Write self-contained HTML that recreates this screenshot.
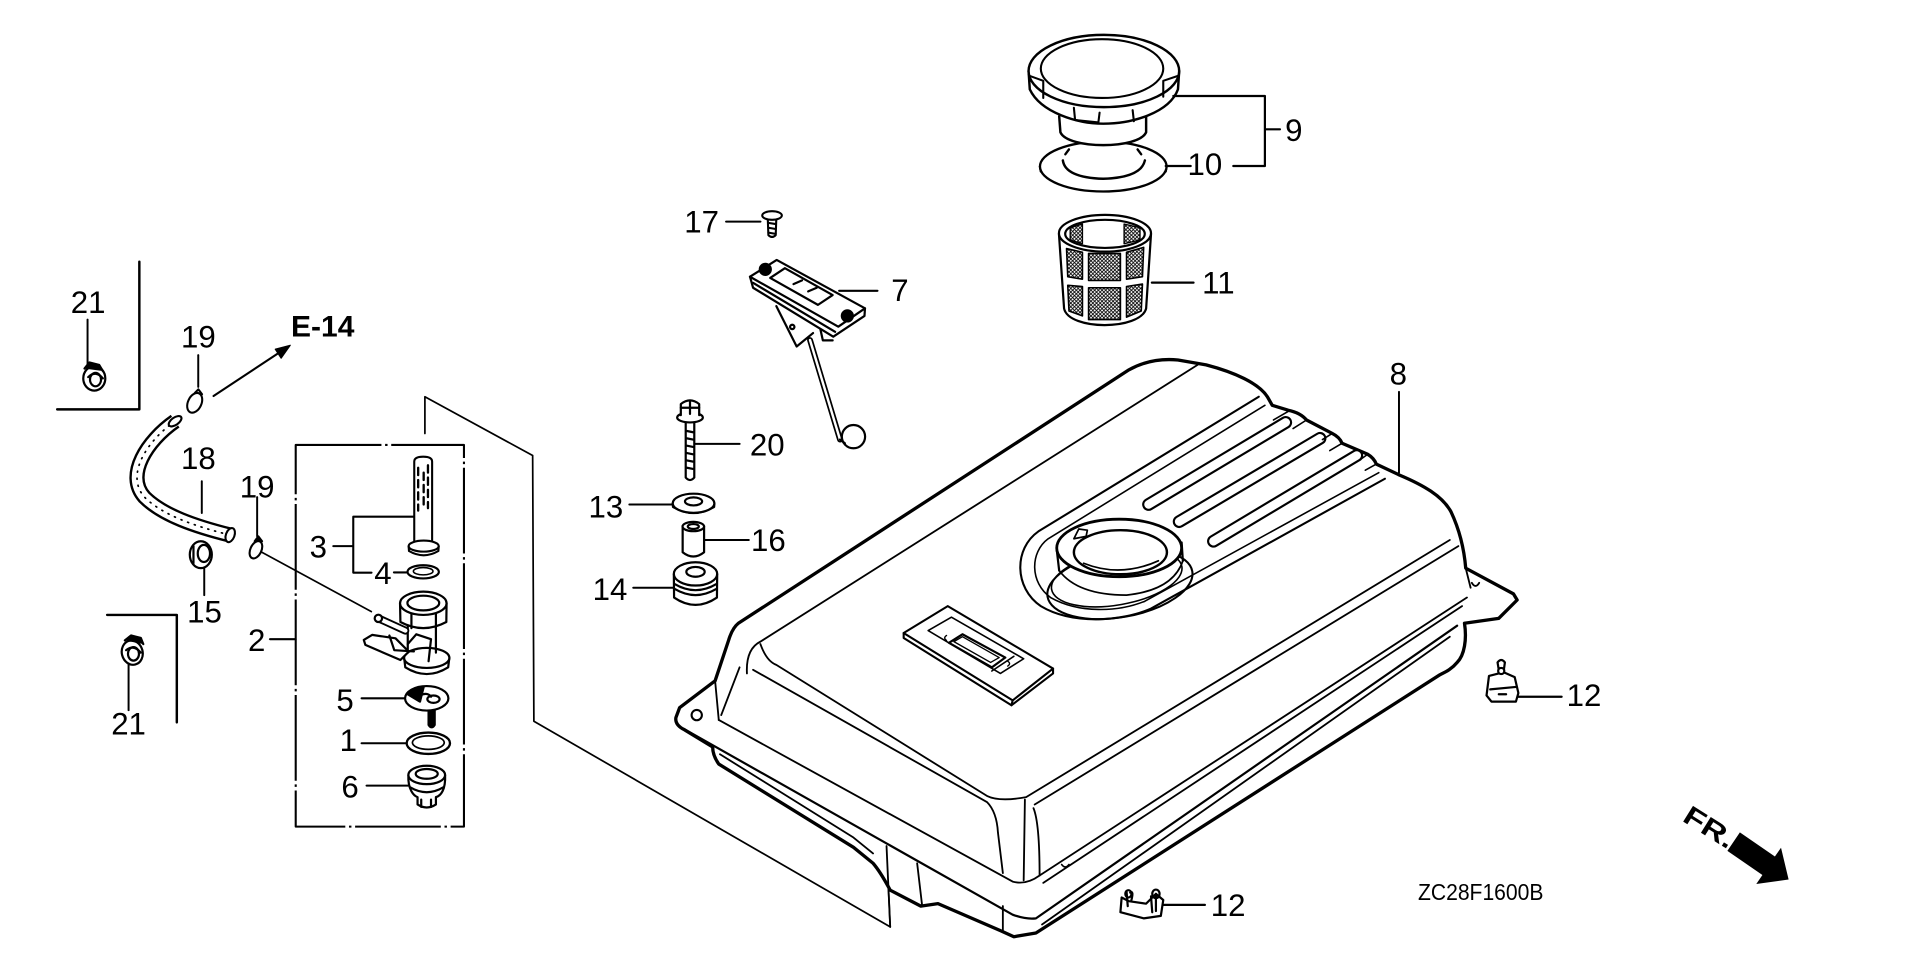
<!DOCTYPE html>
<html>
<head>
<meta charset="utf-8">
<style>
html,body{margin:0;padding:0;background:#fff;}
svg{display:block;}
text{font-family:"Liberation Sans",Arial,sans-serif;fill:#000;stroke:none;}
</style>
</head>
<body>
<svg width="1920" height="959" viewBox="0 0 1568 783.2" preserveAspectRatio="none" xmlns="http://www.w3.org/2000/svg">
<defs>
<pattern id="mesh" width="3" height="3" patternUnits="userSpaceOnUse">
<path d="M0,3 L3,0 M0,0 L3,3" stroke="#000" stroke-width="0.7"/>
</pattern>
</defs>
<rect width="1568" height="783.2" fill="#fff"/>
<g fill="none" stroke="#000" stroke-linecap="round" stroke-linejoin="round">

<!-- ===== Left brackets ===== -->
<path d="M113.8,213.7 L113.8,334.3 L46.7,334.3" stroke-width="2"/>
<path d="M87.5,502.2 L144.4,502.2 L144.4,590" stroke-width="2"/>

<!-- leaders left -->
<path d="M71.5,261 L71.5,298" stroke-width="1.6"/>
<path d="M161.9,290 L161.9,316" stroke-width="1.6"/>
<path d="M164.8,393 L164.8,419" stroke-width="1.6"/>
<path d="M210,406 L210,438" stroke-width="1.6"/>
<path d="M166.8,464 L166.8,486" stroke-width="1.6"/>
<path d="M105,542 L105,580" stroke-width="1.6"/>
<path d="M212.9,450.5 L303.3,499.5" stroke-width="1.3"/>

<!-- E-14 arrow -->
<path d="M174.4,323.4 L228,288" stroke-width="1.7"/>
<polygon points="237,282 229.6,292.5 224.8,285.2" fill="#000" stroke-width="1"/>

<!-- clip 21 top -->
<g stroke-width="1.8">
<ellipse cx="77" cy="309" rx="9" ry="10" fill="#fff"/>
<ellipse cx="78" cy="310" rx="4.5" ry="5.5"/>
<path d="M69,301 L73,296 L81,298 L84,303" fill="#000"/>
<path d="M72,308 Q78,302 84,309"/>
</g>
<!-- clip 21 bottom -->
<g stroke-width="1.8">
<ellipse cx="108" cy="533" rx="8.5" ry="10" fill="#fff" transform="rotate(-15 108 533)"/>
<ellipse cx="109" cy="534" rx="4.5" ry="5.5"/>
<path d="M102,523 L107,519 L115,521 L117,526" fill="#000"/>
<path d="M103,531 Q109,526 115,533"/>
</g>
<!-- clip 19 top -->
<g stroke-width="1.7">
<ellipse cx="159" cy="329" rx="5.5" ry="8.5" fill="#fff" transform="rotate(25 159 329)"/>
<path d="M159,321 L162,318 L165,322"/>
</g>
<!-- clip 19 lower -->
<g stroke-width="1.7">
<ellipse cx="209" cy="449" rx="4.5" ry="7.5" fill="#fff" transform="rotate(25 209 449)"/>
<path d="M208,442 L211,438 L214,442" fill="#000"/>
</g>
<!-- hose 18 -->
<path d="M143,344 C120,360 102,388 118,406 C133,421 160,430 188,437" stroke-width="12.5" stroke-linecap="butt"/>
<path d="M143,344 C120,360 102,388 118,406 C133,421 160,430 188,437" stroke="#fff" stroke-width="8.6" stroke-linecap="butt"/>
<path d="M143,344 C120,360 102,388 118,406 C133,421 160,430 188,437" stroke-width="1.4" stroke-dasharray="0.8 5"/>
<ellipse cx="188" cy="437" rx="3.5" ry="6" stroke-width="1.7" transform="rotate(20 188 437)" fill="#fff"/>
<ellipse cx="143" cy="344" rx="6" ry="3" stroke-width="1.7" transform="rotate(-35 143 344)" fill="#fff"/>
<!-- grommet 15 -->
<g stroke-width="1.8">
<ellipse cx="164" cy="453" rx="9" ry="11" fill="#fff"/>
<ellipse cx="166.5" cy="452" rx="5" ry="7"/>
<path d="M158,446 L158,460"/>
</g>

<!-- ===== Petcock box ===== -->
<rect x="241.5" y="363.4" width="137.4" height="311.7" stroke-width="1.7" stroke-dasharray="70 3 2 3" stroke-linecap="butt"/>
<path d="M347,354 L347,324 L435,372 L436,589 L727,757 L724,691" stroke-width="1.4"/>

<!-- leaders petcock -->
<path d="M220.5,522 L241.4,522" stroke-width="1.7"/>
<path d="M272.2,446 L288.5,446 M288.5,422 L288.5,467.7 L303.4,467.7 M288.5,422 L338.3,422" stroke-width="1.7"/>
<path d="M321.7,467.5 L332.6,467.5" stroke-width="1.7"/>
<path d="M295.3,570.3 L330.8,570.3" stroke-width="1.7"/>
<path d="M295.3,607 L332,607" stroke-width="1.7"/>
<path d="M299.4,641.6 L333.4,641.6" stroke-width="1.7"/>

<!-- part 3 strainer -->
<g stroke-width="1.7">
<path d="M338.3,443.7 L338.3,377 Q338.3,373 345.6,373 Q352.9,373 352.9,377 L352.9,443.7" fill="#fff"/>
<path d="M341.5,382 L341.5,388 M341.5,392 L341.5,398 M341.5,402 L341.5,408 M341.5,412 L341.5,417 M346,386 L346,392 M346,396 L346,402 M346,406 L346,412 M349.5,380 L349.5,386 M349.5,390 L349.5,396 M349.5,400 L349.5,406 M349.5,410 L349.5,415" stroke-width="1.9"/>
<ellipse cx="346" cy="446" rx="12.3" ry="4.5" fill="#fff"/>
<path d="M333.7,446 L334,450 Q346,457 358,450 L358.3,446"/>
</g>
<!-- washer 4 -->
<ellipse cx="345.6" cy="467" rx="12.8" ry="5.4" stroke-width="1.8" fill="#fff"/>
<ellipse cx="345.6" cy="466.5" rx="8" ry="3" stroke-width="1.3"/>
<!-- petcock body -->
<g stroke-width="1.8">
<path d="M330,537 L331,545 Q348.5,556 366,545 L367,537" fill="#fff"/>
<ellipse cx="348.5" cy="537.3" rx="18.5" ry="8.2" fill="#fff"/>
<path d="M333,508 L333,533 M356,508 L356,533" />
<path d="M326.7,492.7 L327,508 Q345.7,518 364.5,508 L364.7,492.7" fill="#fff"/>
<ellipse cx="345.7" cy="492.7" rx="19" ry="9.5" fill="#fff"/>
<ellipse cx="345.7" cy="492.5" rx="13" ry="6"/>
<path d="M336,501 L336,513 M356,501 L356,513"/>
<path d="M309,505 L331,515" stroke-width="6.5"/>
<path d="M309,505 L331,515" stroke="#fff" stroke-width="3.5"/>
<circle cx="309" cy="505" r="3" fill="#fff"/>
<path d="M297.1,522.6 L303.9,518.5 L323,521.3 L333.8,532.2 L327,539 L298.4,526.7 Z" fill="#fff"/>
<path d="M318,519 L322,531 L338,532" />
<path d="M333,526 L340,518 L352,522 L350,540"/>
</g>
<!-- part 5 -->
<g stroke-width="1.8">
<path d="M350,578 L350,592 Q352.5,596 355,592 L355,578" fill="#000"/>
<ellipse cx="348.5" cy="570.3" rx="17.7" ry="10" fill="#fff"/>
<path d="M333,567 Q338,561 346,561 L343,573 Z" fill="#000"/>
<ellipse cx="354" cy="571" rx="5" ry="3"/>
<path d="M343,568 Q349,565 352,569"/>
</g>
<!-- o-ring 1 -->
<ellipse cx="349.8" cy="607" rx="17.7" ry="8.7" stroke-width="1.9" fill="#fff"/>
<ellipse cx="349.8" cy="606.5" rx="13" ry="5.5" stroke-width="1.4"/>
<!-- part 6 -->
<g stroke-width="1.8">
<path d="M333.5,633 C333,645 338,650 341,651 L341,657 Q348.5,662 356,657 L356,651 C360,650 364,645 363.5,633" fill="#fff"/>
<ellipse cx="348.5" cy="632.9" rx="15" ry="7.5" fill="#fff"/>
<ellipse cx="348.5" cy="632" rx="9" ry="4"/>
<path d="M335,643 Q348.5,651 362,643"/>
<path d="M344,653 L344,659 M352,653 L352,659"/>
</g>

<!-- ===== center parts ===== -->
<!-- 17 screw -->
<path d="M593,181 L621,181" stroke-width="1.7"/>
<g stroke-width="1.7">
<path d="M627,178 L627.5,192 Q630.5,195 633.5,192 L634,178" fill="#fff"/>
<ellipse cx="630.5" cy="176" rx="8" ry="3.5" fill="#fff"/>
<path d="M627.5,182 L633.5,183 M627.5,186 L633.5,187 M627.5,190 L633.5,191"/>
</g>
<!-- part 7 gauge -->
<g stroke-width="1.8">
<path d="M634,250 L650.6,283 L664,272" fill="#fff"/>
<circle cx="647" cy="267" r="1.8"/>
<path d="M661.5,277.7 L686,359" stroke-width="4.8"/>
<path d="M661.5,277.7 L686,359" stroke="#fff" stroke-width="2"/>
<circle cx="697" cy="356.6" r="9.5" fill="#fff"/>
<path d="M686,359 L690,362"/>
<path d="M612.5,226 L615,235 L680.5,275 L706,258 L706.4,251.8" fill="#fff"/>
<polygon points="612.5,226 634.3,212.3 706.4,251.8 684.6,266.8" fill="#fff"/>
<path d="M615,231 L682,271"/>
<polygon points="629,227 641,219 680,241 668,249" />
<circle cx="625" cy="220" r="4.5" fill="#000"/>
<circle cx="692" cy="258" r="4.5" fill="#000"/>
<path d="M648,232 L655,229 M660,238 L667,235" />
<path d="M670,269 L672,278 L680,278"/>
</g>
<path d="M685.3,237.5 L716.6,237.5" stroke-width="1.7"/>
<!-- bolt 20 -->
<g stroke-width="1.8">
<path d="M560,344 L560,390 Q563.5,394 567,390 L567,344" fill="#fff"/>
<path d="M561,352 L566,353 M561,358 L566,359 M561,364 L566,365 M561,370 L566,371 M561,376 L566,377 M561,382 L566,383"/>
<ellipse cx="563.5" cy="341" rx="10.5" ry="4" fill="#fff"/>
<path d="M556,339 L556,330 Q563.5,324 571,330 L571,339" fill="#fff"/>
<path d="M556,333 L571,333 M563.5,328 L563.5,338"/>
</g>
<path d="M568,362.5 L604,362.5" stroke-width="1.7"/>
<!-- washer 13 -->
<g stroke-width="1.8">
<path d="M549.4,411 L549.6,414 Q566.4,424 583.2,414 L583.4,411" fill="#fff"/>
<ellipse cx="566.4" cy="411" rx="17" ry="7.8" fill="#fff"/>
<ellipse cx="566.4" cy="409.5" rx="7" ry="3.3"/>
</g>
<path d="M514,412 L549,412" stroke-width="1.7"/>
<!-- spacer 16 -->
<g stroke-width="1.8">
<path d="M557.5,430 L557.5,451 Q566.2,458 575,451 L575,430" fill="#fff"/>
<ellipse cx="566.2" cy="430" rx="8.8" ry="3.8" fill="#fff"/>
<ellipse cx="566.2" cy="430" rx="4.5" ry="2"/>
</g>
<path d="M575.3,441 L611.5,441" stroke-width="1.7"/>
<!-- grommet 14 -->
<g stroke-width="1.8">
<path d="M550.3,469 L550.5,488 Q568,500 585.5,488 L585.7,469" fill="#fff"/>
<path d="M551,477 Q568,487 585,477 M551,481 Q568,491 585,481"/>
<ellipse cx="568" cy="468.7" rx="17.7" ry="9.5" fill="#fff"/>
<ellipse cx="568" cy="467" rx="7.5" ry="4"/>
</g>
<path d="M517.2,480 L550,480" stroke-width="1.7"/>

<!-- ===== Cap / gasket / filter ===== -->
<!-- gasket 10 -->
<g stroke-width="1.9">
<path d="M849.3,136 L850,140 Q901,166 952,140 L952.7,136" fill="#fff"/>
<ellipse cx="901" cy="136" rx="51.7" ry="20.4" fill="#fff"/>
<path d="M868,131 Q870,145 901,146 Q932,145 935,131" stroke-width="2"/>
<path d="M870,126 L873,122 M932,126 L929,122"/>
</g>
<!-- cap 9 -->
<g stroke-width="2">
<path d="M865,95 L866,108 C872,122 930,122 936,108 L936,95" fill="#fff"/>
<path d="M840,58 L841,73 C850,92 880,101 901,101 C925,101 955,92 962,73 L963,58" fill="#fff"/>
<ellipse cx="901.5" cy="58" rx="61.5" ry="29.5" fill="#fff"/>
<ellipse cx="900" cy="56" rx="50" ry="24" stroke-width="1.7"/>
<path d="M841,62 L852,66 L852,80 M877,88 L878,98 L897,100 L898,92 M925,90 L926,99 M950,79 L950,66 L962,62" stroke-width="1.7"/>
</g>
<path d="M958.2,78.4 L1033,78.4 L1033,135.6 L1007.2,135.6 M1033,105.6 L1045.3,105.6" stroke-width="1.8"/>
<path d="M952,135.6 L972.4,135.6" stroke-width="1.8"/>
<!-- filter 11 -->
<g stroke-width="1.8">
<path d="M864.8,191 L869,252 C873,270 931,270 936,252 L940,191" fill="#fff"/>
<path d="M871,203 L884,206 L884,228 L872,226 Z M889,207 L915,207 L915,229 L889,229 Z M920,206 L934,202 L933,226 L920,228 Z M872,233 L884,234 L884,258 L873,254 Z M889,235 L915,235 L915,261 L889,261 Z M920,234 L933,232 L932,254 L920,259 Z" fill="url(#mesh)" stroke-width="1.3"/>
<ellipse cx="902.4" cy="190.5" rx="37.6" ry="15" fill="#fff"/>
<ellipse cx="902.4" cy="191" rx="32.5" ry="11.5"/>
<path d="M874,186 L884,183 L884,199 L874,196 Z M918,183 L931,186 L931,196 L918,199 Z" fill="url(#mesh)" stroke-width="1.1"/>
</g>
<path d="M940.7,230.8 L974.7,230.8" stroke-width="1.8"/>

<!-- ===== Tank ===== -->
<path d="M603,509 L922,302 Q940,292 962,294 L985,298 C1008,304 1028,313 1035,324 L1039,331 L1052,335 Q1062,337 1067,343 L1088,354 Q1094,357 1096,362 L1117,371 Q1122,374 1124,379 L1143,388 C1162,396 1178,405 1185,418 C1193,435 1196,452 1197,464 L1236,485 L1239,490 L1224,505 L1196,509 C1198,522 1196,535 1190,541 C1185,547 1180,549 1176,551 L846,762 L828,765 L817,760 L766,738 L752,740 L727,727 Q719,712 713,705 L697,692 L587,624 Q582,617 582,610 L559,596 Q551,592 552,586 L555,578 L584,556 L595,523 Q598,513 603,509 Z" fill="#fff" stroke-width="2.7"/>
<g stroke-width="1.5">
<path d="M610,550 Q609,530 621,524 L978,298"/>
<path d="M621,526 Q626,540 634,543 L806,650 Q816,655 838,651 L1184,441"/>
<path d="M615,547 L806,655 Q814,663 815,680 L819,713"/>
<path d="M845,657 L1191,446"/>
<path d="M837,653 L836,719"/>
<path d="M844,660 Q849,672 849,715"/>
<path d="M587,588 L827,720 Q838,723 849,715 L1198,488"/>
<path d="M852,721 L1194,495"/>
<path d="M558,595 L827,747 Q838,751 846,750 L1190,511" stroke-width="1.8"/>
<path d="M851,755 L1184,520"/>
<path d="M584,556 L587,588"/>
<path d="M604,545 L589,584"/>
<path d="M749,705 L753,739"/>
<path d="M819,740 L819,760"/>
<path d="M724,691 L727,757"/>
<path d="M588,616 L697,684 L713,697"/>
<path d="M1197,464 L1201,480"/>
<path d="M1202,476 Q1205,481 1208,476"/>
</g>
<circle cx="569" cy="584" r="4.2" stroke-width="1.7"/>
<path d="M867,706 Q870,710 873,706" stroke-width="1.3"/>
<!-- recess / bezel -->
<g stroke-width="1.7">
<path d="M1028,324 L848,434 C828,448 828,480 850,495 C875,510 915,508 940,497 L1131,391"/>
<path d="M1033,331 L856,440 C841,451 841,476 858,488 C881,501 913,500 935,491 L1126,386" stroke-width="1.3"/>
<ellipse cx="914.6" cy="477" rx="60" ry="27" transform="rotate(-10 914.6 477)"/>
<ellipse cx="912" cy="472" rx="54" ry="22" transform="rotate(-10 912 472)" stroke-width="1.3"/>
<path d="M863,449 L865,466 M965,443 L966,458" stroke-width="1.8"/>
<path d="M865,466 Q880,486 920,486 Q958,482 966,458" stroke-width="1.4"/>
<ellipse cx="914" cy="447.5" rx="51" ry="23.5" fill="#fff" stroke-width="2.3"/>
<ellipse cx="915" cy="451" rx="38" ry="18" stroke-width="2"/>
<path d="M885,460 Q915,472 946,458" stroke-width="1.4"/>
<path d="M877,440 L881,432 L888,433 L887,438 Z" stroke-width="1.4"/>
</g>
<!-- ribs -->
<g>
<path d="M938,412 L1050,345" stroke-width="10.5"/>
<path d="M938,412 L1050,345" stroke="#fff" stroke-width="7"/>
<path d="M963,426 L1078,358" stroke-width="10.5"/>
<path d="M963,426 L1078,358" stroke="#fff" stroke-width="7"/>
<path d="M991,442 L1108,372" stroke-width="10.5"/>
<path d="M991,442 L1108,372" stroke="#fff" stroke-width="7"/>
<path d="M1052,336 L1040,343 M1067,343 L1056,350 M1088,354 L1080,359 M1096,362 L1086,368 M1117,371 L1110,376 M1124,379 L1115,384" stroke-width="1.3"/>
</g>
<!-- gauge window plate -->
<g stroke-width="1.7">
<path d="M738,517 L738,521 L826,576 L860,550 L860,546" fill="#fff"/>
<polygon points="738,517 774,495 860,546 827,572" fill="#fff"/>
<path d="M826,576 L827,572"/>
<polygon points="758,515 777,504 836,538 817,550" stroke-width="1.3"/>
<path d="M810,548 L828,536" stroke-width="1.3"/>
<polygon points="775,525 786,518 821,537 810,545" stroke-width="1.8"/>
<polygon points="779,524 786,520 816,537 809,541" stroke-width="1.1"/>
<path d="M773,519 Q770,521 773,523 M823,540 Q826,542 823,544" stroke-width="1.1"/>
</g>
<path d="M1142.5,320 L1142.5,386" stroke-width="1.6"/>

<!-- ===== 12 clips ===== -->
<g stroke-width="1.8">
<path d="M1216,552 L1214,568 L1218,573 L1238,573 L1240,566 L1237,553 L1228,549 Z" fill="#fff"/>
<path d="M1217,563 L1238,561 M1224,567 L1230,567"/>
<path d="M1224,547 L1223,541 Q1226,537 1229,541 L1228,548" fill="#fff"/>
<circle cx="1226" cy="548" r="2.5" fill="#fff"/>
</g>
<path d="M1239.9,569 L1275.3,569" stroke-width="1.8"/>
<g stroke-width="1.8">
<path d="M916,733 L915,745 L934,750 L948,748 L950,735 L944,730 L936,738 L922,736 Z" fill="#fff"/>
<path d="M920,728 L921,740 M923,729 Q926,727 924,735 M940,732 L941,745 M944,730 L944,744" />
<ellipse cx="921.5" cy="730" rx="2.5" ry="3"/>
<ellipse cx="944" cy="730" rx="3" ry="3.5"/>
</g>
<path d="M950,739 L984,739" stroke-width="1.8"/>
</g>

<!-- FR arrow -->
<polygon points="1420.9,679.8 1449.5,699.5 1454.5,692.3 1460.7,718.3 1434.3,721.9 1439.3,714.6 1410.7,694.9" fill="#000"/>
<text x="1373" y="670" font-size="22" font-weight="bold" textLength="45" lengthAdjust="spacingAndGlyphs" transform="rotate(32 1373 670)">FR.</text>

<!-- ===== Labels ===== -->
<g font-size="25.5" text-anchor="middle">
<text x="72" y="255.5">21</text>
<text x="162" y="284">19</text>
<text x="162" y="383">18</text>
<text x="210" y="406.5">19</text>
<text x="167" y="508.5">15</text>
<text x="105" y="600">21</text>
<text x="209.6" y="531.5">2</text>
<text x="260" y="455.5">3</text>
<text x="312.7" y="477">4</text>
<text x="281.8" y="580.5">5</text>
<text x="284.5" y="613.3">1</text>
<text x="285.9" y="651.4">6</text>
<text x="573" y="190">17</text>
<text x="735" y="246">7</text>
<text x="626.6" y="372">20</text>
<text x="494.8" y="422.8">13</text>
<text x="627.5" y="450">16</text>
<text x="498.2" y="490">14</text>
<text x="1056.6" y="115">9</text>
<text x="984" y="143">10</text>
<text x="995" y="239.8">11</text>
<text x="1142" y="314">8</text>
<text x="1293.6" y="576.4">12</text>
<text x="1003" y="748">12</text>
</g>
<text x="237.7" y="275" font-size="24.5" font-weight="bold">E-14</text>
<text x="1158" y="735" font-size="18.5" textLength="102.5" lengthAdjust="spacingAndGlyphs">ZC28F1600B</text>
</svg>
</body>
</html>
